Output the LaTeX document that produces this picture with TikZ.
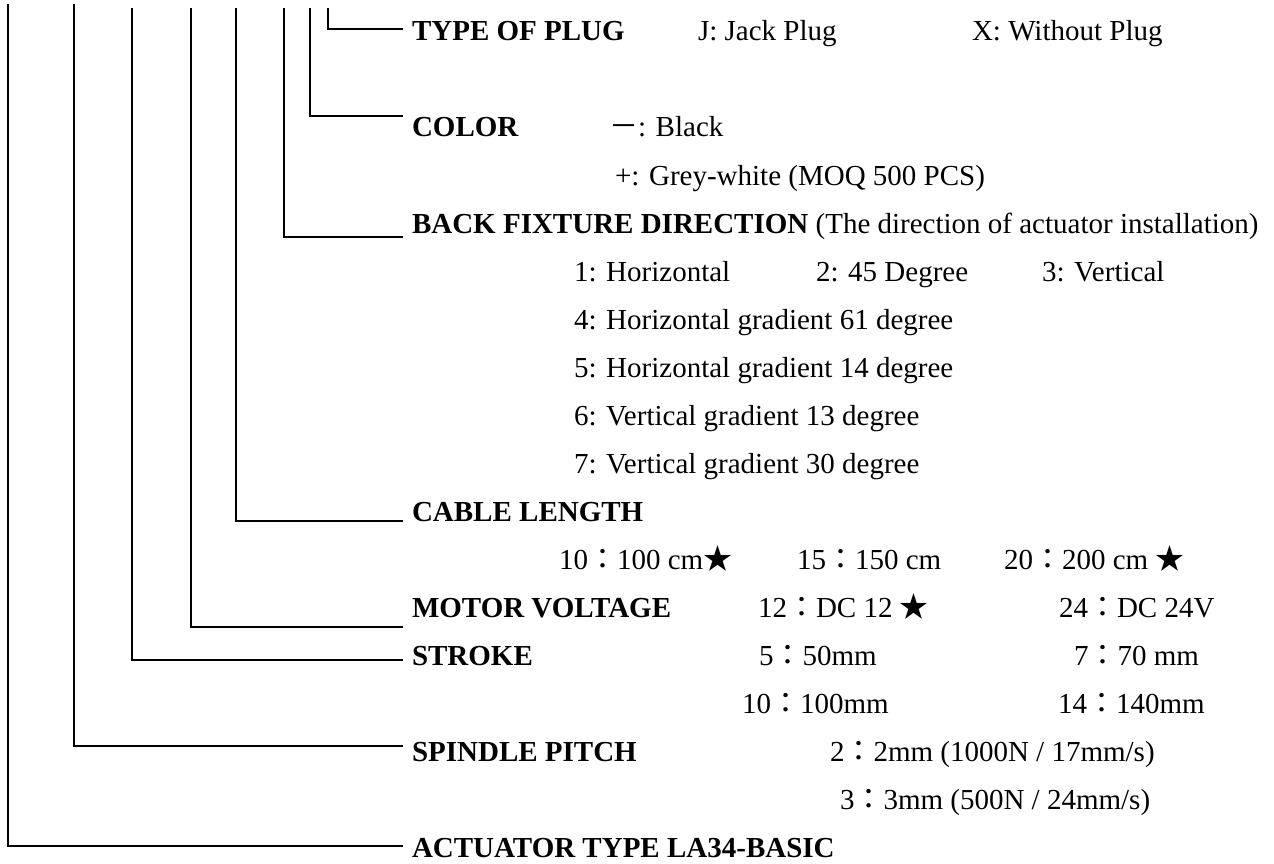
\documentclass[tikz,border=0pt]{standalone}
\usepackage{fontspec}
\setmainfont{Liberation Serif}
\newfontfamily\cjk{Noto Sans CJK TC}
\newcommand{\fwc}{{\cjk ：}}
\newcommand{\fwstar}{{\cjk ★}}
\newcommand{\fwminus}{{\cjk －}}
\begin{document}
\begin{tikzpicture}[x=1pt,y=-1pt,
  txt/.style={anchor=base west,inner sep=0pt,outer sep=0pt,font=\fontsize{29}{34}\selectfont},
  lbl/.style={txt,font=\fontsize{29}{34}\selectfont\bfseries},
  conn/.style={line width=1.8pt,line cap=rect}]
\useasboundingbox (0,0) rectangle (1274,864);
% labels
\node[lbl] (plug) at (412,41) {TYPE OF PLUG};
\node[txt] (plugJ) at (698,41) {J: Jack Plug};
\node[txt] (plugX) at (972,41) {X: Without Plug};
\node[lbl] (color) at (412,137) {COLOR};
\node[txt] (colB) at (609,137) {\fwminus: Black};
\node[txt] (colG) at (615,185) {+: Grey-white (MOQ 500 PCS)};
\node[lbl] (back) at (412,233) {BACK FIXTURE DIRECTION};
\node[txt] (backN) at (back.base east) {\ (The direction of actuator installation)};
\node[txt] (b1) at (574,281) {1: Horizontal};
\node[txt] (b2) at (816,281) {2: 45 Degree};
\node[txt] (b3) at (1042,281) {3: Vertical};
\node[txt] (b4) at (574,329) {4: Horizontal gradient 61 degree};
\node[txt] (b5) at (574,377) {5: Horizontal gradient 14 degree};
\node[txt] (b6) at (574,425) {6: Vertical gradient 13 degree};
\node[txt] (b7) at (574,473) {7: Vertical gradient 30 degree};
\node[lbl] (cable) at (412,521) {CABLE LENGTH};
\node[txt] (c10) at (559,569) {10\fwc100 cm\fwstar};
\node[txt] (c15) at (797,569) {15\fwc150 cm};
\node[txt] (c20) at (1004,569) {20\fwc200 cm \fwstar};
\node[lbl] (motor) at (412,617) {MOTOR VOLTAGE};
\node[txt] (m12) at (758,617) {12\fwc DC 12 \fwstar};
\node[txt] (m24) at (1059,617) {24\fwc DC 24V};
\node[lbl] (stroke) at (412,665) {STROKE};
\node[txt] (s5) at (759,665) {5\fwc 50mm};
\node[txt] (s7) at (1074,665) {7\fwc 70 mm};
\node[txt] (s10) at (742,713) {10\fwc 100mm};
\node[txt] (s14) at (1058,713) {14\fwc 140mm};
\node[lbl] (spindle) at (412,761) {SPINDLE PITCH};
\node[txt] (p2) at (830,761) {2\fwc 2mm (1000N / 17mm/s)};
\node[txt] (p3) at (840,809) {3\fwc 3mm (500N / 24mm/s)};
\node[lbl] (act) at (412,857) {ACTUATOR TYPE LA34-BASIC};
% connector ends
\coordinate (tA) at (8,5);     \coordinate (eA) at (402,846);
\coordinate (tS) at (74,5);    \coordinate (eS) at (402,746);
\coordinate (tK) at (132,9);   \coordinate (eK) at (402,660);
\coordinate (tM) at (191,9);   \coordinate (eM) at (402,627);
\coordinate (tC) at (236,9);   \coordinate (eC) at (402,521);
\coordinate (tB) at (284,9);   \coordinate (eB) at (402,237);
\coordinate (tL) at (310,9);   \coordinate (eL) at (402,116);
\coordinate (tP) at (328,9);   \coordinate (eP) at (402,29);
\foreach \t/\e in {tA/eA,tS/eS,tK/eK,tM/eM,tC/eC,tB/eB,tL/eL,tP/eP}
  \draw[conn] (\t) |- (\e);
\end{tikzpicture}
\end{document}
